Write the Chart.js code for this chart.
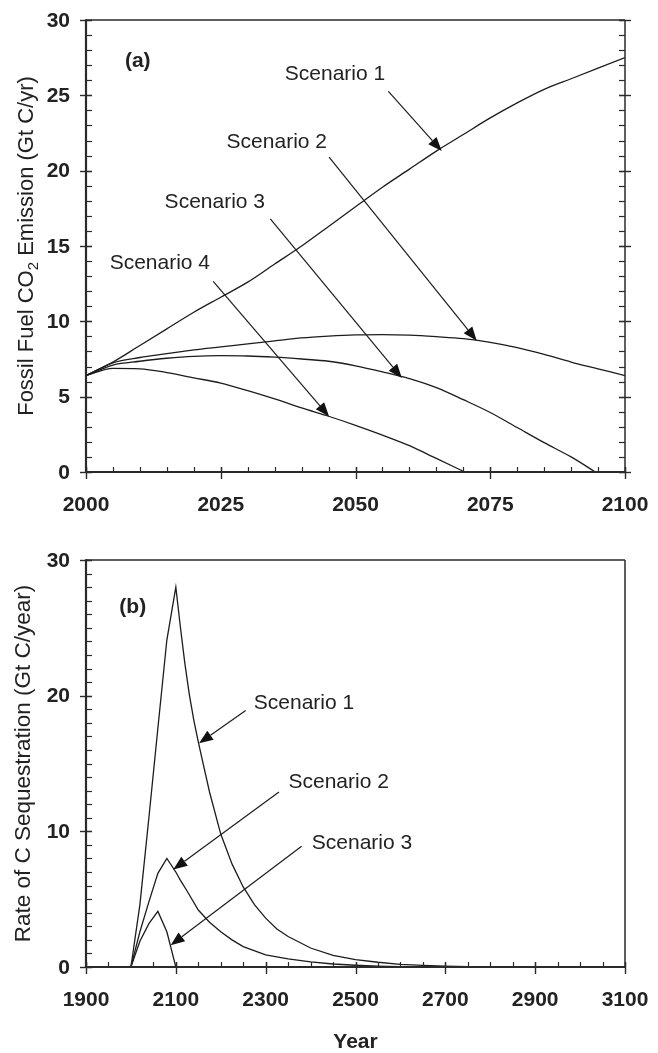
<!DOCTYPE html>
<html>
<head>
<meta charset="utf-8">
<script src="https://cdn.jsdelivr.net/npm/chart.js@4/dist/chart.umd.min.js"></script>
<style>
  html, body { margin: 0; padding: 0; background: #fff; }
  #wrap { position: relative; width: 658px; height: 1053px; overflow: hidden; }
  .pane { position: absolute; left: 0; width: 658px; }
  #paneA { top: 0; height: 526px; }
  #paneB { top: 526px; height: 527px; }
  canvas { display: block; }
</style>
</head>
<body>
<div id="wrap">
  <div class="pane" id="paneA"><canvas id="chartA" width="658" height="526"></canvas></div>
  <div class="pane" id="paneB"><canvas id="chartB" width="658" height="527"></canvas></div>
</div>
<script>
// ---------- (a) Fossil fuel CO2 emission, Gt C/yr ----------
const yearsA = [2000, 2005, 2010, 2015, 2020, 2025, 2030, 2035, 2040, 2045, 2050,
                2055, 2060, 2065, 2070, 2075, 2080, 2085, 2090, 2095, 2100];
const emisS1 = [6.4, 7.3, 8.4, 9.5, 10.6, 11.6, 12.6, 13.8, 15.0, 16.3, 17.6,
                18.9, 20.1, 21.3, 22.4, 23.5, 24.5, 25.4, 26.1, 26.8, 27.5];
const emisS2 = [6.4, 7.25, 7.6, 7.85, 8.1, 8.3, 8.5, 8.7, 8.9, 9.02, 9.1,
                9.12, 9.08, 8.98, 8.85, 8.6, 8.25, 7.8, 7.3, 6.85, 6.4];
const yearsA3 = [2000, 2005, 2010, 2015, 2020, 2025, 2030, 2035, 2040, 2045, 2050,
                 2055, 2060, 2065, 2070, 2075, 2080, 2085, 2090, 2094.5];
const emisS3 = [6.4, 7.1, 7.35, 7.55, 7.68, 7.72, 7.7, 7.62, 7.5, 7.35, 7.05,
                6.65, 6.2, 5.6, 4.8, 3.95, 2.95, 1.95, 1.0, 0];
const yearsA4 = [2000, 2005, 2010, 2015, 2020, 2025, 2030, 2035, 2040, 2045, 2050,
                 2055, 2060, 2065, 2070.3];
const emisS4 = [6.4, 6.88, 6.85, 6.6, 6.25, 5.9, 5.4, 4.85, 4.25, 3.7, 3.1,
                2.45, 1.75, 0.9, 0];
const xTicksA = [2000, 2025, 2050, 2075, 2100];
const yTicksA = [0, 5, 10, 15, 20, 25, 30];

// ---------- (b) Rate of C sequestration, Gt C/year ----------
const yearsB1 = [2000, 2020, 2040, 2060, 2080, 2100, 2110, 2120, 2130, 2140, 2150, 2160,
                 2175, 2200, 2225, 2250, 2275, 2300, 2325, 2350, 2400, 2450, 2500,
                 2550, 2600, 2650, 2700, 2750, 2800];
const seqS1 = [0, 4.6, 11.0, 17.6, 24.1, 28.0, 25.1, 22.4, 20.1, 18.2, 16.6, 15.1,
               12.9, 9.8, 7.6, 5.9, 4.6, 3.6, 2.8, 2.25, 1.4, 0.85, 0.55,
               0.35, 0.2, 0.12, 0.06, 0.03, 0.01];
const yearsB2 = [2000, 2020, 2040, 2060, 2080, 2090, 2100, 2110, 2125, 2150, 2175,
                 2200, 2225, 2250, 2300, 2350, 2400, 2450, 2500, 2550, 2600, 2700];
const seqS2 = [0, 2.6, 4.8, 6.9, 8.0, 7.5, 7.0, 6.4, 5.6, 4.2, 3.3,
               2.6, 2.0, 1.5, 0.9, 0.6, 0.38, 0.22, 0.13, 0.07, 0.03, 0];
const yearsB3 = [2000, 2020, 2040, 2060, 2080, 2100];
const seqS3 = [0, 1.9, 3.2, 4.1, 2.6, 0];
const xTicksB = [1900, 2100, 2300, 2500, 2700, 2900, 3100];
const yTicksB = [0, 10, 20, 30];

const FONT = "'Liberation Sans', Arial, Helvetica, sans-serif";
const INK = '#222222';

function pts(xs, ys) { return xs.map((x, i) => ({ x: x, y: ys[i] })); }

function series(xs, ys, smooth) {
  const ds = {
    data: pts(xs, ys),
    borderColor: '#1c1c1c',
    borderWidth: 1.3,
    pointRadius: 0,
    fill: false,
    tension: 0
  };
  if (smooth) ds.cubicInterpolationMode = 'monotone';
  return ds;
}

// Draws the boxed frame, in/out ticks, bold tick labels, axis titles and
// the labelled arrows, all positioned through the chart's own scales.
function makeFramePlugin(cfg) {
  return {
    id: 'frameAxes',
    afterDatasetsDraw(chart) {
      const ctx = chart.ctx;
      const a = chart.chartArea;
      const sx = chart.scales.x, sy = chart.scales.y;
      const L = a.left, R = a.right, T = a.top, B = a.bottom;
      const seg = (x1, y1, x2, y2) => { ctx.beginPath(); ctx.moveTo(x1, y1); ctx.lineTo(x2, y2); ctx.stroke(); };

      ctx.save();
      ctx.strokeStyle = '#2a2a2a';
      ctx.lineCap = 'butt';

      // minor ticks (inside only)
      ctx.lineWidth = 1.2;
      for (let v = sy.min; v <= sy.max + 1e-9; v += cfg.yMinor) {
        const py = Math.round(sy.getPixelForValue(v)) + 0.5;
        seg(L, py, L + 6, py);
        if (cfg.rightTicks) seg(R - 6, py, R, py);
      }
      for (let v = sx.min; v <= sx.max + 1e-9; v += cfg.xMinor) {
        const px = Math.round(sx.getPixelForValue(v)) + 0.5;
        seg(px, B, px, B - 5);
      }
      // major ticks (cross the axis)
      ctx.lineWidth = 1.4;
      cfg.yTicks.forEach(v => {
        const py = Math.round(sy.getPixelForValue(v)) + 0.5;
        seg(L - 6, py, L + 6, py);
        if (cfg.rightTicks) seg(R - 6, py, R + 6, py);
      });
      cfg.xTicks.forEach(v => {
        const px = Math.round(sx.getPixelForValue(v)) + 0.5;
        seg(px, B - 5, px, B + 7);
      });

      // frame
      ctx.lineWidth = 1.5;
      seg(L, T, R, T);
      seg(R, T, R, B);
      ctx.lineWidth = 2.2;
      seg(L, T - 0.7, L, B + 1);
      seg(L - 1, B, R + 1, B);

      // tick labels
      ctx.fillStyle = INK;
      ctx.font = 'bold 21px ' + FONT;
      ctx.textAlign = 'right';
      ctx.textBaseline = 'middle';
      cfg.yTicks.forEach(v => ctx.fillText(String(v), L - 16, sy.getPixelForValue(v) + 1));
      ctx.textAlign = 'center';
      cfg.xTicks.forEach(v => ctx.fillText(String(v), sx.getPixelForValue(v), B + 33));

      // x axis title
      if (cfg.xTitle) {
        ctx.fillText(cfg.xTitle, (L + R) / 2, B + cfg.xTitleGap);
      }

      // y axis title (with optional subscript)
      ctx.save();
      ctx.translate(cfg.yTitleX, (T + B) / 2);
      ctx.rotate(-Math.PI / 2);
      ctx.textBaseline = 'alphabetic';
      ctx.textAlign = 'left';
      const big = cfg.yTitleSize + 'px ' + FONT, small = '15px ' + FONT;
      const parts = cfg.yTitle;
      let total = 0;
      parts.forEach(p => { ctx.font = p.sub ? small : big; total += ctx.measureText(p.t).width; });
      let cx = -total / 2;
      parts.forEach(p => {
        ctx.font = p.sub ? small : big;
        ctx.fillText(p.t, cx, p.sub ? 5 : 0);
        cx += ctx.measureText(p.t).width;
      });
      ctx.restore();

      // labels and arrows
      cfg.notes.forEach(n => {
        ctx.font = (n.bold ? 'bold ' : '') + '21px ' + FONT;
        ctx.fillStyle = INK;
        ctx.textAlign = 'center';
        ctx.textBaseline = 'middle';
        ctx.fillText(n.text, sx.getPixelForValue(n.at[0]), sy.getPixelForValue(n.at[1]) + 1);
        if (n.from) {
          const x1 = sx.getPixelForValue(n.from[0]), y1 = sy.getPixelForValue(n.from[1]);
          const x2 = sx.getPixelForValue(n.to[0]), y2 = sy.getPixelForValue(n.to[1]);
          const ang = Math.atan2(y2 - y1, x2 - x1);
          const hl = 14, hw = 5.5;
          const bx = x2 - hl * Math.cos(ang), by = y2 - hl * Math.sin(ang);
          ctx.strokeStyle = '#1c1c1c';
          ctx.lineWidth = 1.2;
          seg(x1, y1, bx, by);
          ctx.beginPath();
          ctx.moveTo(x2, y2);
          ctx.lineTo(bx + hw * Math.sin(ang), by - hw * Math.cos(ang));
          ctx.lineTo(bx - hw * Math.sin(ang), by + hw * Math.cos(ang));
          ctx.closePath();
          ctx.fillStyle = '#111';
          ctx.fill();
        }
      });
      ctx.restore();
    }
  };
}

function makeChart(id, datasets, xr, yr, padding, cfg) {
  return new Chart(document.getElementById(id), {
    type: 'line',
    data: { datasets: datasets },
    options: {
      responsive: false,
      animation: false,
      devicePixelRatio: 1,
      layout: { padding: padding },
      plugins: { legend: { display: false }, tooltip: { enabled: false } },
      scales: {
        x: { type: 'linear', min: xr[0], max: xr[1], display: false },
        y: { type: 'linear', min: yr[0], max: yr[1], display: false }
      }
    },
    plugins: [makeFramePlugin(cfg)]
  });
}

makeChart('chartA',
  [series(yearsA, emisS1, true), series(yearsA, emisS2, true),
   series(yearsA3, emisS3, true), series(yearsA4, emisS4, true)],
  [2000, 2100], [0, 30],
  { left: 86, right: 33, top: 20, bottom: 54 },
  {
    xTicks: xTicksA, yTicks: yTicksA, xMinor: 5, yMinor: 1, rightTicks: true,
    yTitleX: 33, yTitleSize: 22,
    yTitle: [{ t: 'Fossil Fuel CO' }, { t: '2', sub: true }, { t: ' Emission (Gt C/yr)' }],
    notes: [
      { text: '(a)', bold: true, at: [2009.6, 27.36] },
      { text: 'Scenario 1', at: [2046.2, 26.44], from: [2056.1, 25.26], to: [2066.0, 21.3] },
      { text: 'Scenario 2', at: [2035.4, 21.93], from: [2045.1, 20.9], to: [2072.5, 8.71] },
      { text: 'Scenario 3', at: [2023.9, 18.0], from: [2034.2, 16.8], to: [2058.6, 6.24] },
      { text: 'Scenario 4', at: [2013.7, 13.92], from: [2023.6, 12.65], to: [2045.1, 3.69] }
    ]
  });

makeChart('chartB',
  [series(yearsB1, seqS1), series(yearsB2, seqS2), series(yearsB3, seqS3)],
  [1900, 3100], [0, 30],
  { left: 86, right: 33, top: 34, bottom: 86 },
  {
    xTicks: xTicksB, yTicks: yTicksB, xMinor: 50, yMinor: 1, rightTicks: false,
    xTitle: 'Year', xTitleGap: 75,
    yTitleX: 30, yTitleSize: 22.5,
    yTitle: [{ t: 'Rate of C Sequestration (Gt C/year)' }],
    notes: [
      { text: '(b)', bold: true, at: [2004, 26.6] },
      { text: 'Scenario 1', at: [2385.3, 19.5], from: [2255.5, 18.9], to: [2151.6, 16.5] },
      { text: 'Scenario 2', at: [2462.5, 13.7], from: [2329.6, 12.9], to: [2094.3, 7.18] },
      { text: 'Scenario 3', at: [2514.4, 9.2], from: [2380, 8.9], to: [2088.5, 1.6] }
    ]
  });
</script>
</body>
</html>
